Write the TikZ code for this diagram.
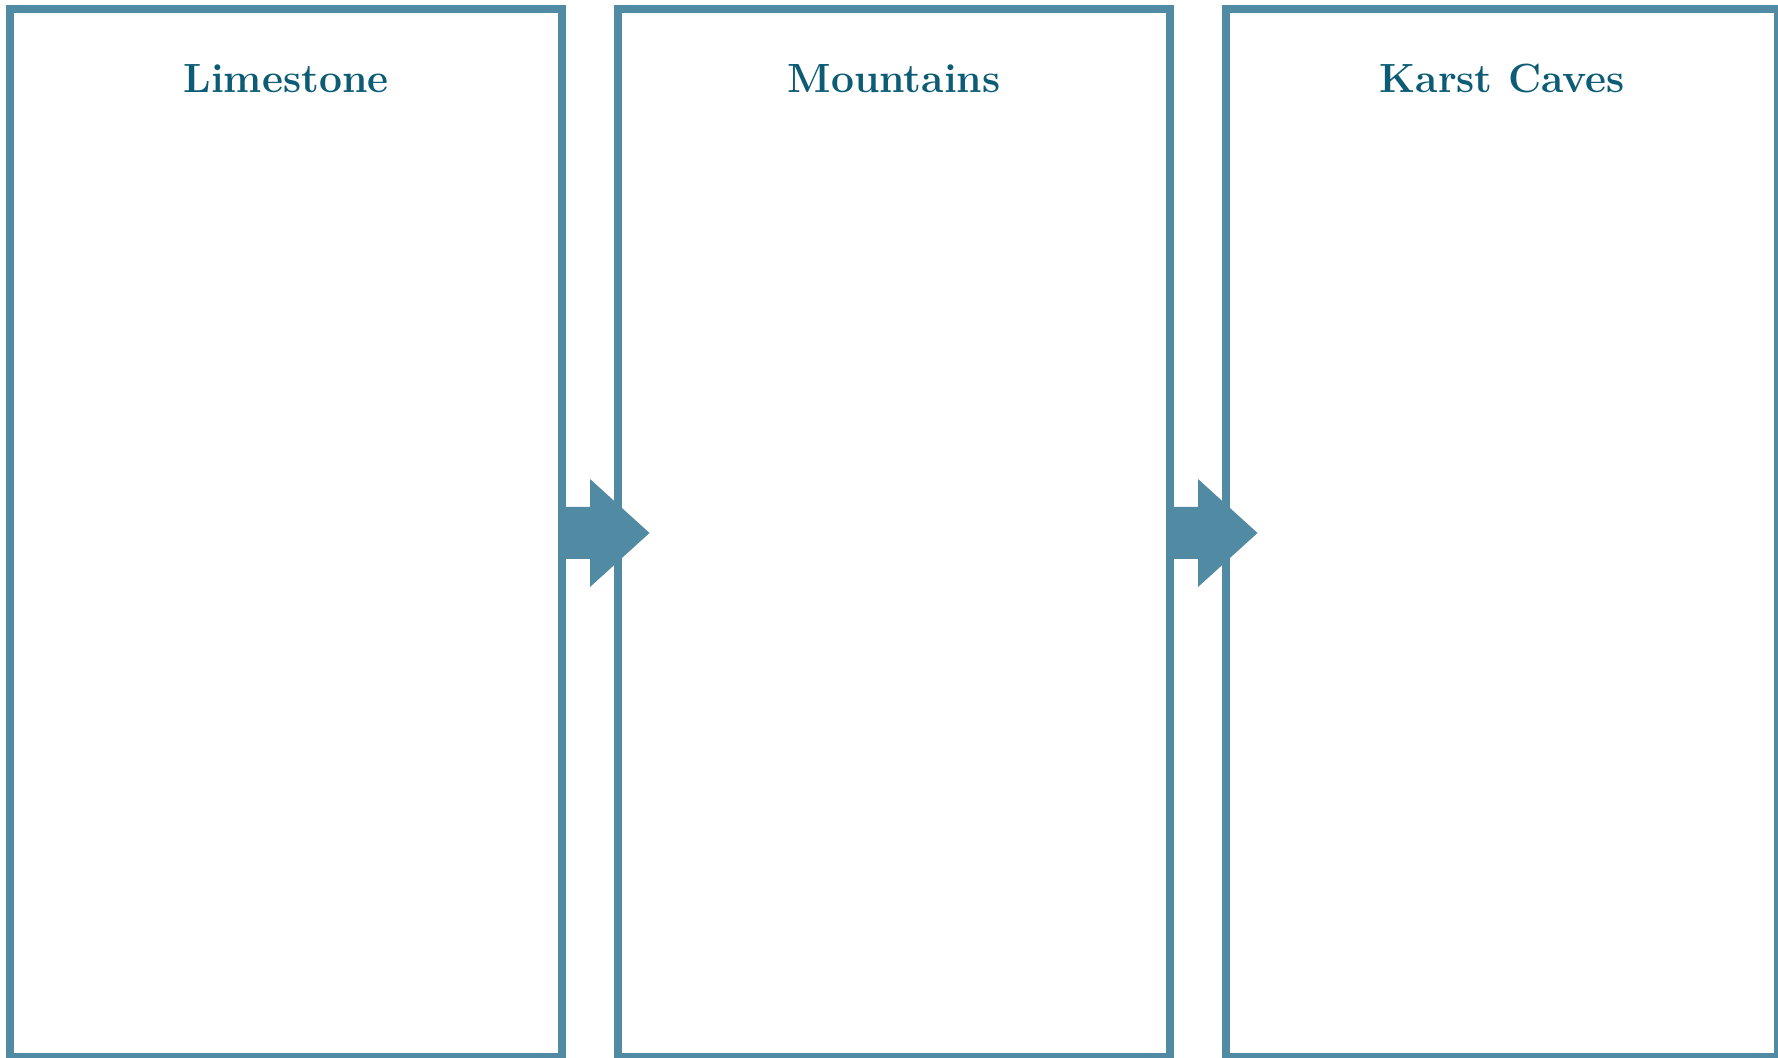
\documentclass[tikz,border=0pt]{standalone}
\usetikzlibrary{calc}
\definecolor{boxblue}{RGB}{80,139,163}
\definecolor{titleteal}{RGB}{13,92,117}
\begin{document}
\begin{tikzpicture}[x=0.5pt,y=-0.5pt,
  stage/.style={draw=boxblue,line width=4pt,rectangle,inner sep=0pt,outer sep=0pt,
    minimum width=276pt,minimum height=524pt,fill=white},
  stagetitle/.style={anchor=base,text=titleteal,inner sep=0pt,
    font=\fontsize{20.4}{24}\selectfont\bfseries},
  flowarrow/.style={fill=boxblue,draw=none}]
  \useasboundingbox (0,0) rectangle (1778,1058);
  % three stage panels
  \node[stage] (b1) at (286,533) {};
  \node[stage] (b2) at (894,533) {};
  \node[stage] (b3) at (1502,533) {};
  % panel headings
  \node[stagetitle] (t1) at ($(b1.north)+(0,83.3)$) {Limestone};
  \node[stagetitle] (t2) at ($(b2.north)+(0,83.3)$) {Mountains};
  \node[stagetitle] (t3) at ($(b3.north)+(0,83.3)$) {Karst Caves};
  % block arrows between panels
  \foreach \s in {b1,b2}{
    \fill[flowarrow] ($(\s.east)+(-2,-26)$) -- ($(\s.east)+(28,-26)$)
      -- ($(\s.east)+(28,-54)$) -- ($(\s.east)+(87.5,0)$)
      -- ($(\s.east)+(28,54)$) -- ($(\s.east)+(28,26)$)
      -- ($(\s.east)+(-2,26)$) -- cycle;
  }
\end{tikzpicture}
\end{document}
